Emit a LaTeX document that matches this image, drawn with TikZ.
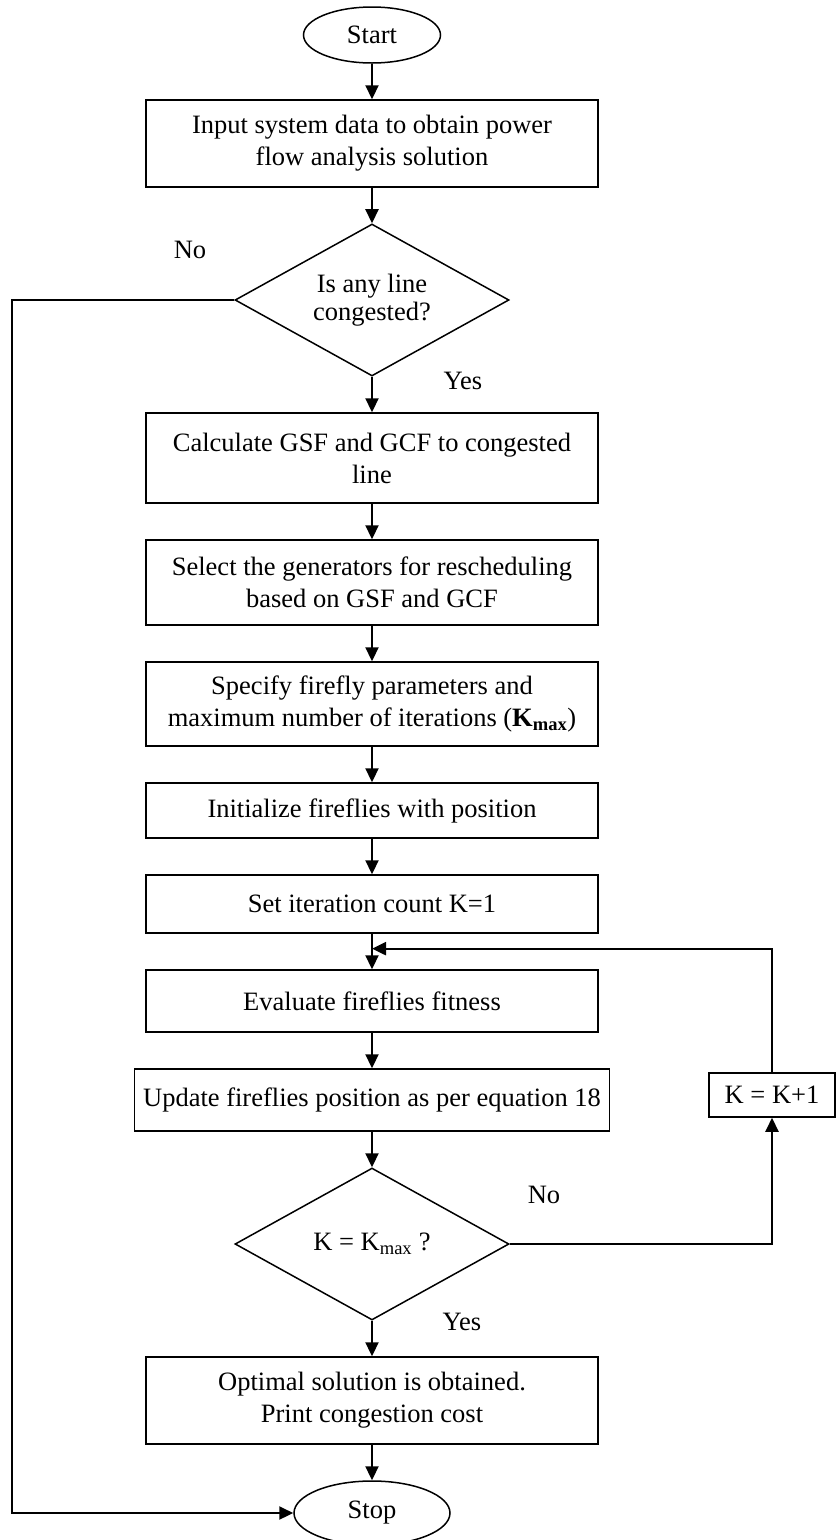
\documentclass[tikz,border=0pt]{standalone}
\usepackage{fontspec}
\setmainfont{Liberation Serif}
\usetikzlibrary{shapes.geometric,arrows.meta,positioning,calc}

\begin{document}
\begin{tikzpicture}[x=1pt, y=1pt, >={Triangle[length=14pt,width=13pt]}, node distance=35.5pt,
	font=\fontsize{26.5}{32}\selectfont,
	procbox/.style={draw, line width=1.5pt, rectangle, minimum width=452pt, align=center, inner sep=3pt},
	termnode/.style={draw, line width=1.5pt, ellipse, inner sep=0pt},
	decide/.style={draw, line width=1.5pt, diamond, aspect=1.8, minimum width=274pt, minimum height=152pt,
		inner sep=0pt, align=center, font=\fontsize{26.5}{28}\selectfont},
	flow/.style={->, line width=2.2pt}]
	\useasboundingbox (0,0) rectangle (836,-1540);

	% Nodes, main column
	\node [termnode, minimum width=137pt, minimum height=56pt] (start) at (372,-35) {Start};
	\node [procbox, minimum height=87pt] (input) [below=of start] {Input system data to obtain power\\flow analysis solution};
	\node [decide] (cong) [below=of input] {Is any line\\congested?};
	\node [procbox, minimum height=90pt] (calc) [below=of cong] {Calculate GSF and GCF to congested\\line};
	\node [procbox, minimum height=85pt] (select) [below=of calc] {Select the generators for rescheduling\\based on GSF and GCF};
	\node [procbox, minimum height=84pt] (param) [below=of select] {Specify firefly parameters and\\maximum number of iterations (\textbf{K\textsubscript{max}})};
	\node [procbox, minimum height=55pt] (init) [below=of param] {Initialize fireflies with position};
	\node [procbox, minimum height=58pt] (iter) [below=of init] {Set iteration count K=1};
	\node [procbox, minimum height=62pt] (eval) [below=of iter] {Evaluate fireflies fitness};
	\node [procbox, minimum width=475pt, minimum height=62pt] (update) [below=of eval] {Update fireflies position as per equation 18};
	\node [decide] (kmax) [below=of update] {K = K\textsubscript{max} ?};
	\node [procbox, minimum height=87pt] (opt) [below=of kmax] {Optimal solution is obtained.\\Print congestion cost};
	\node [termnode, minimum width=156pt, minimum height=64pt] (stop) [below=of opt] {Stop};

	% Nodes, loop and labels
	\node [procbox, minimum width=126pt, minimum height=44pt] (kinc) at (772,-1095) {K = K+1};
	\node (nocong) at (190,-250) {No};
	\node (yescong) at (463,-381) {Yes};
	\node (nokmax) at (544,-1195) {No};
	\node (yeskmax) at (462,-1322) {Yes};
	\coordinate (rail) at (12,0);
	\coordinate (loopin) at ($(iter.south)!0.42!(eval.north)$);

	% Paths
	\path [flow] (start) edge (input)
				(input) edge (cong)
				(cong) edge (calc)
				(calc) edge (select)
				(select) edge (param)
				(param) edge (init)
				(init) edge (iter)
				(iter) edge (eval)
				(eval) edge (update)
				(update) edge (kmax)
				(kmax) edge (opt)
				(opt) edge (stop);
	\draw [flow] (cong.west) -- (cong.west -| rail) |- (stop.west);
	\draw [flow] (kmax.east) -| (kinc.south);
	\draw [flow] (kinc.north) |- (loopin);
\end{tikzpicture}
\end{document}
